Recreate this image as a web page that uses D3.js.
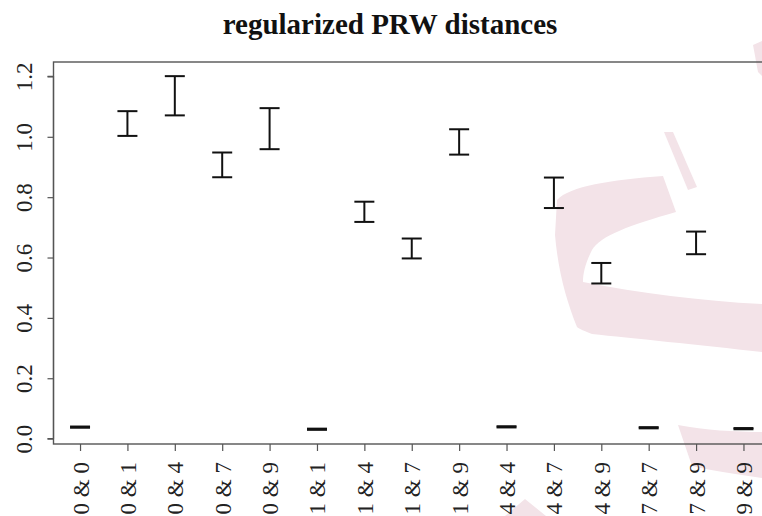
<!DOCTYPE html>
<html>
<head>
<meta charset="utf-8">
<script src="https://cdn.jsdelivr.net/npm/d3@7"></script>
<style>
    body { margin: 0; background: #fff; }
    #chart-area { width: 762px; height: 516px; overflow: hidden; }
    text { font-family: "Liberation Serif", "DejaVu Serif", serif; }
</style>
</head>
<body>
<div id="chart-area"></div>
<script>

// pairs of digits compared
let pairs = ["0 & 0", "0 & 1", "0 & 4", "0 & 7", "0 & 9", "1 & 1", "1 & 4", "1 & 7",
    "1 & 9", "4 & 4", "4 & 7", "4 & 9", "7 & 7", "7 & 9", "9 & 9"];

// lower / upper end of each interval
let lowerVals = [0.036, 1.003, 1.071, 0.866, 0.959, 0.029, 0.718, 0.597, 0.941, 0.037, 0.764, 0.514, 0.034, 0.611, 0.031];
let upperVals = [0.040, 1.085, 1.201, 0.948, 1.095, 0.033, 0.785, 0.663, 1.025, 0.041, 0.865, 0.582, 0.038, 0.686, 0.035];

let yTicks = [0.0, 0.2, 0.4, 0.6, 0.8, 1.0, 1.2];

let chartTitle = "regularized PRW distances";

/* * * * * * * * * * * * * *
*    class ErrorBarVis     *
* * * * * * * * * * * * * */

class ErrorBarVis {

    constructor(parentElement){
        this.parentElement = parentElement;
        this.displayData = pairs.map((p, i) => ({name: p, idx: i + 1, lo: lowerVals[i], hi: upperVals[i]}));

        this.initVis();
    }

    initVis(){
        let vis = this;

        vis.margin = { top: 62, right: 0, bottom: 72, left: 53.5 };
        // plot box runs past the right edge of the picture (cropped)
        vis.width = 770 - vis.margin.left;
        vis.height = 516 - vis.margin.top - vis.margin.bottom;

        vis.svg = d3.select("#" + vis.parentElement).append("svg")
            .attr("width", 762)
            .attr("height", 516);

        // faint pink watermark behind the plot (not data)
        let wm = vis.svg.append("g").attr("class", "watermark").attr("fill", "#f3e3e8");
        wm.append("path").attr("d",
            "M557,200 C570,186 610,180 663,176 L676,212 C630,225 600,236 592,250 " +
            "C586,262 583,272 583,282 C640,293 700,301 762,304 L762,352 " +
            "C700,345 630,338 592,334 C585,331 579,329 577,327 C566,300 558,270 555,235 Z");
        wm.append("path").attr("d", "M664,132 L673,132 L697,187 L688,190 Z");
        wm.append("path").attr("d", "M753,45 L762,41 L762,76 L758,72 Z");
        wm.append("path").attr("d",
            "M678,425 C705,430 735,432 762,432 L762,478 C735,474 708,470 692,466 Z");
        wm.append("path").attr("d", "M505,516 L525,499 L546,516 Z");

        vis.plot = vis.svg.append("g")
            .attr("transform", `translate(${vis.margin.left}, ${vis.margin.top})`);

        // R style: 4% padding on both axes
        let n = vis.displayData.length;
        let padX = (n - 1) * 0.04;
        vis.x = d3.scaleLinear()
            .domain([1 - padX, n + padX])
            .range([0, vis.width]);

        let yMin = d3.min(lowerVals), yMax = d3.max(upperVals);
        let padY = (yMax - yMin) * 0.04;
        vis.y = d3.scaleLinear()
            .domain([yMin - padY, yMax + padY])
            .range([vis.height, 0]);

        // box
        vis.plot.append("rect")
            .attr("x", 0)
            .attr("y", 0)
            .attr("width", vis.width)
            .attr("height", vis.height)
            .attr("fill", "none")
            .attr("stroke", "#555")
            .attr("stroke-width", 1.4);

        // y axis
        vis.yAxis = d3.axisLeft(vis.y)
            .tickValues(yTicks)
            .tickSize(6)
            .tickPadding(0)
            .tickFormat(d3.format(".1f"));

        let gy = vis.plot.append("g")
            .attr("class", "axis y-axis")
            .call(vis.yAxis);
        gy.select(".domain")
            .attr("d", `M-6,${vis.y(yTicks[0])}H0V${vis.y(yTicks[yTicks.length - 1])}H-6`)
            .attr("stroke", "#555")
            .attr("stroke-width", 1.2)
            .attr("fill", "none");
        gy.selectAll(".tick line").attr("stroke", "#555").attr("stroke-width", 1.2);
        gy.selectAll(".tick text")
            .attr("x", null)
            .attr("dy", null)
            .attr("transform", `translate(${-vis.margin.left + 32}, 0) rotate(-90)`)
            .attr("text-anchor", "middle")
            .attr("fill", "#222")
            .style("font-size", "23px");

        // x axis
        vis.xAxis = d3.axisBottom(vis.x)
            .tickValues(vis.displayData.map(d => d.idx))
            .tickSize(7)
            .tickFormat((d, i) => pairs[i]);

        let gx = vis.plot.append("g")
            .attr("class", "axis x-axis")
            .attr("transform", "translate(0," + vis.height + ")")
            .call(vis.xAxis);
        gx.select(".domain").remove();
        gx.selectAll(".tick line").attr("stroke", "#555").attr("stroke-width", 1.2);
        gx.selectAll(".tick text")
            .attr("y", null)
            .attr("dy", null)
            .attr("transform", "translate(8, 18) rotate(-90)")
            .attr("text-anchor", "end")
            .attr("fill", "#222")
            .style("font-size", "23px");

        // title
        vis.svg.append("text")
            .attr("x", 390)
            .attr("y", 34)
            .attr("text-anchor", "middle")
            .attr("font-weight", "bold")
            .style("font-size", "29px")
            .attr("fill", "#111")
            .text(chartTitle);

        vis.updateVis();
    }

    updateVis(){
        let vis = this;
        let capW = 10;

        let bars = vis.plot.selectAll(".err-bar")
            .data(vis.displayData)
            .enter()
            .append("g")
            .attr("class", "err-bar")
            .attr("stroke", "#111")
            .attr("stroke-width", 2);

        bars.append("line")
            .attr("x1", d => vis.x(d.idx))
            .attr("x2", d => vis.x(d.idx))
            .attr("y1", d => vis.y(d.lo))
            .attr("y2", d => vis.y(d.hi));

        bars.append("line")
            .attr("x1", d => vis.x(d.idx) - capW)
            .attr("x2", d => vis.x(d.idx) + capW)
            .attr("y1", d => vis.y(d.hi))
            .attr("y2", d => vis.y(d.hi));

        bars.append("line")
            .attr("x1", d => vis.x(d.idx) - capW)
            .attr("x2", d => vis.x(d.idx) + capW)
            .attr("y1", d => vis.y(d.lo))
            .attr("y2", d => vis.y(d.lo));
    }
}

let errVis = new ErrorBarVis("chart-area");

</script>
</body>
</html>
